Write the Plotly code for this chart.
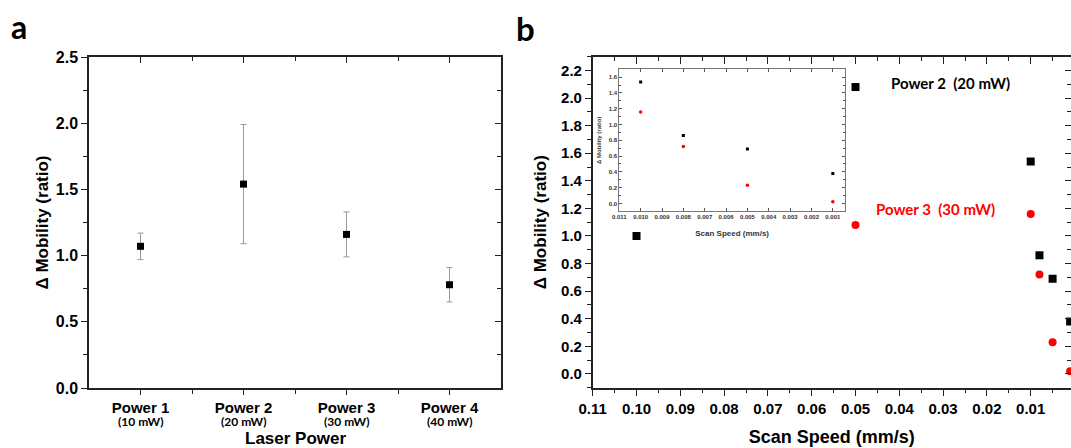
import plotly.graph_objects as go

# ---------------- data ----------------
# Panel a
power_pos = [1, 2, 3, 4]
power_names = ["Power 1", "Power 2", "Power 3", "Power 4"]
power_mw = ["(10 mW)", "(20 mW)", "(30 mW)", "(40 mW)"]
mobility_a = [1.07, 1.54, 1.16, 0.78]
mobility_a_err = [0.10, 0.45, 0.17, 0.13]

# Panel b main
speed_p2 = [0.10, 0.05, 0.01, 0.008, 0.005, 0.001]
mobility_p2 = [1.00, 2.08, 1.54, 0.86, 0.69, 0.38]
speed_p3 = [0.05, 0.01, 0.008, 0.005, 0.001]
mobility_p3 = [1.08, 1.16, 0.72, 0.23, 0.02]

# Panel b inset
inset_speed = [0.010, 0.008, 0.005, 0.001]
inset_p2 = [1.54, 0.86, 0.69, 0.38]
inset_p3 = [1.16, 0.72, 0.23, 0.02]

W, H = 1071, 448
def px(x):
    return x / W
def py(y):
    return 1 - y / H

FONT = "Liberation Sans, Arial, sans-serif"
CAL = "Lato, Open Sans, sans-serif"
AX = "#222222"

fig = go.Figure()

# Panel a
fig.add_trace(go.Scatter(
    x=power_pos, y=mobility_a, mode="markers",
    marker=dict(symbol="square", size=7, color="black"),
    error_y=dict(type="data", array=mobility_a_err, color="#9a9a9a", thickness=1, width=3),
    xaxis="x", yaxis="y", showlegend=False))

# Panel b main
fig.add_trace(go.Scatter(
    x=speed_p2, y=mobility_p2, mode="markers",
    marker=dict(symbol="square", size=8, color="black"),
    xaxis="x2", yaxis="y2", showlegend=False, cliponaxis=False))
fig.add_trace(go.Scatter(
    x=speed_p3, y=mobility_p3, mode="markers",
    marker=dict(symbol="circle", size=8, color="#ff0000"),
    xaxis="x2", yaxis="y2", showlegend=False, cliponaxis=False))

# Inset
fig.add_trace(go.Scatter(
    x=inset_speed, y=inset_p2, mode="markers",
    marker=dict(symbol="square", size=3, color="black"),
    xaxis="x3", yaxis="y3", showlegend=False))
fig.add_trace(go.Scatter(
    x=inset_speed, y=inset_p3, mode="markers",
    marker=dict(symbol="circle", size=3.5, color="#ff0000"),
    xaxis="x3", yaxis="y3", showlegend=False))

# invisible traces to anchor overlay (mirror) axes
fig.add_trace(go.Scatter(x=[], y=[], xaxis="x4", yaxis="y4", showlegend=False))
fig.add_trace(go.Scatter(x=[], y=[], xaxis="x5", yaxis="y5", showlegend=False))

dom_ax = [px(89), px(501)]
dom_ay = [py(388), py(57)]
dom_bx = [px(592.7), 1.0]
dom_by = [py(387.7), py(56.7)]
dom_ix = [px(619.3), px(845)]
dom_iy = [py(211.3), py(69.3)]

range_ax = [0.5, 4.5]
range_ay = [0, 2.5]
range_bx = [0.11, 0.0008]
range_by = [-0.1, 2.3]

tickfont = dict(family=FONT, size=16, color="black", weight="bold")
tickfont_ax = dict(family=FONT, size=15, color="black", weight="bold")
tickfont_b = dict(family=FONT, size=15, color="black", weight="bold")

common = dict(automargin=False, showgrid=False, zeroline=False)

fig.update_layout(
    width=W, height=H, margin=dict(l=0, r=0, t=0, b=0),
    paper_bgcolor="white", plot_bgcolor="rgba(0,0,0,0)",
    showlegend=False,
    # ---- panel a ----
    xaxis=dict(domain=dom_ax, anchor="y", range=range_ax, tickmode="array",
               tickvals=power_pos, ticktext=power_names, ticks="outside", ticklen=5,
               tickcolor=AX, tickwidth=1.2,
               minor=dict(tickmode="array", tickvals=[1.5, 2.5, 3.5], ticks="outside",
                          ticklen=4, tickcolor=AX),
               showline=True, linecolor=AX, linewidth=1.5, mirror=True,
               tickfont=tickfont_ax, **common),
    yaxis=dict(domain=dom_ay, anchor="x", range=range_ay, dtick=0.5, tick0=0,
               tickformat=".1f", ticks="outside", ticklen=6, tickcolor=AX, tickwidth=1.2,
               minor=dict(dtick=0.25, tick0=0, ticks="outside", ticklen=4, tickcolor=AX),
               showline=True, linecolor=AX, linewidth=1.5, mirror=True,
               tickfont=tickfont,
               title=dict(text="<b>Δ Mobility (ratio)</b>", font=dict(family=FONT, size=17, color="black"),
                          standoff=3), **common),
    xaxis4=dict(overlaying="x", side="top", anchor="y", range=range_ax, tickmode="array",
                tickvals=power_pos, ticks="inside", ticklen=6, tickcolor=AX, tickwidth=1.2,
                minor=dict(tickmode="array", tickvals=[1.5, 2.5, 3.5], ticks="inside",
                           ticklen=4, tickcolor=AX),
                showticklabels=False, showline=False, **common),
    yaxis4=dict(overlaying="y", side="right", anchor="x", range=range_ay, dtick=0.5, tick0=0,
                ticks="inside", ticklen=6, tickcolor=AX, tickwidth=1.2,
                minor=dict(dtick=0.25, tick0=0, ticks="inside", ticklen=4, tickcolor=AX),
                showticklabels=False, showline=False, **common),
    # ---- panel b ----
    xaxis2=dict(domain=dom_bx, anchor="y2", range=range_bx, dtick=0.01, tick0=0,
                tickformat=".2f", ticks="outside", ticklen=7, tickcolor=AX, tickwidth=1.2,
                minor=dict(dtick=0.005, tick0=0, ticks="outside", ticklen=4, tickcolor=AX),
                showline=True, linecolor=AX, linewidth=1.5, mirror=True,
                tickfont=tickfont_b,
                title=dict(text="<b>Scan Speed (mm/s)</b>", font=dict(family=FONT, size=18, color="black"),
                           standoff=14), **common),
    yaxis2=dict(domain=dom_by, anchor="x2", range=range_by, dtick=0.2, tick0=0,
                tickformat=".1f", ticks="outside", ticklen=6, tickcolor=AX, tickwidth=1.2,
                minor=dict(dtick=0.1, tick0=0, ticks="outside", ticklen=4, tickcolor=AX),
                showline=True, linecolor=AX, linewidth=1.5, mirror=True,
                tickfont=tickfont_b,
                title=dict(text="<b>Δ Mobility (ratio)</b>", font=dict(family=FONT, size=17, color="black"),
                           standoff=10), **common),
    xaxis5=dict(overlaying="x2", side="top", anchor="y2", range=range_bx, dtick=0.01, tick0=0,
                ticks="inside", ticklen=7, tickcolor=AX, tickwidth=1.2,
                minor=dict(dtick=0.005, tick0=0, ticks="inside", ticklen=4, tickcolor=AX),
                showticklabels=False, showline=False, **common),
    yaxis5=dict(overlaying="y2", side="right", anchor="x2", range=range_by, dtick=0.2, tick0=0,
                ticks="inside", ticklen=6, tickcolor=AX, tickwidth=1.2,
                minor=dict(dtick=0.1, tick0=0, ticks="inside", ticklen=4, tickcolor=AX),
                showticklabels=False, showline=False, **common),
    # ---- inset ----
    xaxis3=dict(domain=dom_ix, anchor="y3", range=[0.011, 0.00043], dtick=0.001, tick0=0,
                tickformat=".3f", ticks="inside", ticklen=3, tickcolor="#555", tickwidth=0.8,
                mirror="ticks", showline=True, linecolor="#777", linewidth=0.8,
                tickfont=dict(family=FONT, size=6, color="#333", weight="bold"),
                title=dict(text="<b>Scan Speed (mm/s)</b>", font=dict(family=FONT, size=8, color="#333"),
                           standoff=10), **common),
    yaxis3=dict(domain=dom_iy, anchor="x3", range=[-0.1, 1.7], dtick=0.2, tick0=0,
                tickformat=".1f", ticks="inside", ticklen=3, tickcolor="#555", tickwidth=0.8,
                minor=dict(dtick=0.1, tick0=0, ticks="inside", ticklen=2, tickcolor="#555"),
                mirror="ticks", showline=True, linecolor="#777", linewidth=0.8,
                tickfont=dict(family=FONT, size=6, color="#333", weight="bold"),
                title=dict(text="<b>Δ Mobility (ratio)</b>", font=dict(family=FONT, size=6, color="#333"),
                           standoff=6), **common),
    annotations=[
        dict(text="<b>a</b>", x=px(19), y=py(27), xref="paper", yref="paper", showarrow=False,
             font=dict(family=CAL, size=32, color="black"), xanchor="center", yanchor="middle"),
        dict(text="<b>b</b>", x=px(525), y=py(28), xref="paper", yref="paper", showarrow=False,
             font=dict(family=CAL, size=33, color="black"), xanchor="center", yanchor="middle"),
        dict(text="<b>Power 2  (20 mW)</b>", x=px(950), y=py(83), xref="paper", yref="paper",
             showarrow=False, font=dict(family=CAL, size=15, color="black"),
             xanchor="center", yanchor="middle"),
        dict(text="<b>Power 3  (30 mW)</b>", x=px(935), y=py(209), xref="paper", yref="paper",
             showarrow=False, font=dict(family=CAL, size=15, color="#ff0000"),
             xanchor="center", yanchor="middle"),
        dict(text="<b>Laser Power</b>", x=sum(dom_ax) / 2, y=py(438.5), xref="paper", yref="paper",
             showarrow=False, font=dict(family=FONT, size=17, color="black"),
             xanchor="center", yanchor="middle"),
    ] + [
        dict(text=f"<b>{m}</b>", x=p, y=py(421.5), xref="x", yref="paper", showarrow=False,
             font=dict(family=CAL, size=12, color="black"), xanchor="center", yanchor="middle")
        for p, m in zip(power_pos, power_mw)
    ],
)

fig.write_html("out.html", config={"displayModeBar": False},
               post_script="document.body.style.margin='0px';document.body.style.overflow='hidden';")
